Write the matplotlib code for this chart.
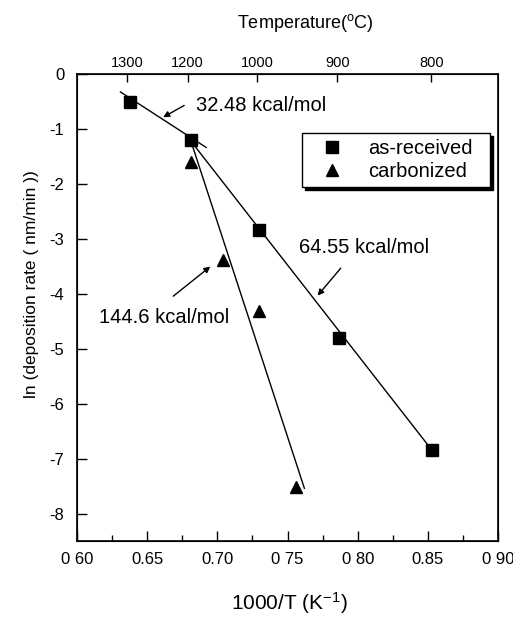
import matplotlib

matplotlib.use("Agg")
import matplotlib.pyplot as plt
from matplotlib.ticker import MultipleLocator

plt.rcParams["font.family"] = ["Liberation Sans", "DejaVu Sans"]
plt.rcParams["axes.unicode_minus"] = False
plt.rcParams["mathtext.default"] = "regular"

# ── Data ──────────────────────────────────────────────────────────────────────
as_recv_x = [0.638, 0.681, 0.730, 0.787, 0.853]
as_recv_y = [-0.51, -1.20, -2.83, -4.80, -6.85]
carb_x = [0.681, 0.704, 0.730, 0.756]
carb_y = [-1.59, -3.38, -4.31, -7.51]

# fitted Arrhenius lines (end points)
fit_hi_x = [0.631, 0.692]
fit_hi_y = [-0.32, -1.33]
fit_as_x = [0.681, 0.853]
fit_as_y = [-1.21, -6.85]
fit_carb_x = [0.682, 0.762]
fit_carb_y = [-1.28, -7.54]

x_ticks = [0.60, 0.65, 0.70, 0.75, 0.80, 0.85, 0.90]
x_ticklabels = ["0 60", "0.65", "0.70", "0 75", "0 80", "0.85", "0 90"]
y_ticks = [0, -1, -2, -3, -4, -5, -6, -7, -8]
top_ticks = [0.6357, 0.6789, 0.7283, 0.7855, 0.8525]
top_ticklabels = ["1300", "1200", "1000", "900", "800"]

# ── Plot ──────────────────────────────────────────────────────────────────────
fig = plt.figure(figsize=(5.13, 6.18), dpi=100)
ax = fig.add_axes([0.150, 0.1246, 0.821, 0.755])

ax.plot(fit_hi_x, fit_hi_y, color="black", lw=1.0)
ax.plot(fit_as_x, fit_as_y, color="black", lw=1.0)
ax.plot(fit_carb_x, fit_carb_y, color="black", lw=1.0)

ax.plot(as_recv_x, as_recv_y, "s", color="black", ms=8, label="as-received")
ax.plot(carb_x, carb_y, "^", color="black", ms=8.5, label="carbonized")

ax.set_xlim(0.60, 0.90)
ax.set_ylim(-8.5, 0)
ax.set_xticks(x_ticks)
ax.set_xticklabels(x_ticklabels)
ax.xaxis.set_minor_locator(MultipleLocator(0.025))
ax.set_yticks(y_ticks)
ax.tick_params(axis="x", which="major", direction="in", length=7, width=1,
               labelsize=12, pad=8)
ax.tick_params(axis="x", which="minor", direction="in", length=4, width=1)
ax.tick_params(axis="y", which="major", direction="in", length=7, width=1,
               labelsize=12, pad=9)
for spine in ax.spines.values():
    spine.set_linewidth(1.2)

# top temperature axis
top = ax.twiny()
top.set_xlim(ax.get_xlim())
top.set_xticks(top_ticks)
top.set_xticklabels(top_ticklabels)
top.tick_params(axis="x", direction="in", length=6, width=1, labelsize=10.5, pad=3)

# annotations
arrow = dict(arrowstyle="-|>", color="black", lw=1.0, mutation_scale=9,
             shrinkA=0, shrinkB=0)
ax.annotate("", xy=(0.6614, -0.78), xytext=(0.6764, -0.565), arrowprops=arrow)
ax.text(0.6845, -0.57, "32.48 kcal/mol", fontsize=14.5, va="center", ha="left")
ax.annotate("", xy=(0.7714, -4.03), xytext=(0.7879, -3.53), arrowprops=arrow)
ax.text(0.7579, -3.15, "64.55 kcal/mol", fontsize=14.5, va="center", ha="left")
ax.annotate("", xy=(0.695, -3.50), xytext=(0.6686, -4.04), arrowprops=arrow)
ax.text(0.6157, -4.43, "144.6 kcal/mol", fontsize=14.5, va="center", ha="left")

leg = ax.legend(loc="center", bbox_to_anchor=(0.534, 0.756, 0.447, 0.12),
                mode="expand", fontsize=14.5, frameon=True, fancybox=False,
                shadow={"color": "black", "alpha": 1.0}, edgecolor="black",
                borderpad=0.3, labelspacing=0.2, handlelength=2.4,
                handletextpad=0.6, borderaxespad=0)
leg.get_frame().set_linewidth(1.0)

fig.text(0.596, 0.963, "Temperature($^{o}$C)", fontsize=13,
         ha="center", va="center")
fig.text(0.565, 0.024, "1000/T (K$^{-1}$)", fontsize=15,
         ha="center", va="center")
fig.text(0.062, 0.54, "ln (deposition rate ( nm/min ))", fontsize=12.5,
         ha="center", va="center", rotation=90)

plt.savefig("out.png", dpi=100)
